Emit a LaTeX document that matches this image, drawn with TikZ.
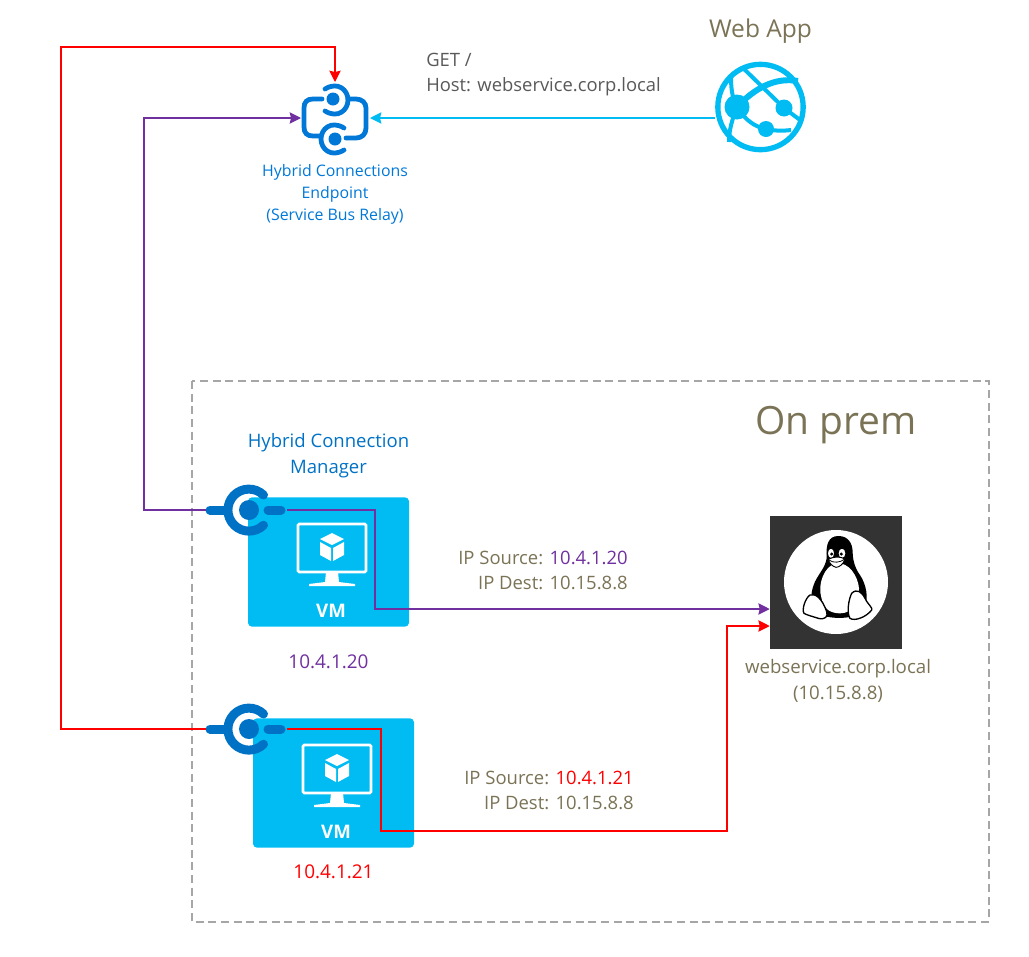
\documentclass[tikz,border=0pt]{standalone}
\usepackage{fontspec}
\setmainfont{Open Sans}
\usetikzlibrary{arrows.meta,positioning}
\definecolor{azure}{HTML}{00BCF2}
\definecolor{azuredark}{HTML}{0072C6}
\definecolor{relayblue}{HTML}{0078D7}
\definecolor{olive}{HTML}{7A7356}
\definecolor{greytxt}{HTML}{595959}
\definecolor{flowpurple}{HTML}{7030A0}
\definecolor{flowred}{HTML}{FF0000}
\definecolor{tuxbg}{HTML}{333333}
\tikzstyle{vmbox} = [rectangle, fill=azure, rounded corners=3pt, minimum width=120.75pt, minimum height=97pt, inner sep=0pt]
\tikzstyle{tuxbox} = [rectangle, fill=tuxbg, minimum width=99pt, minimum height=99.75pt, inner sep=0pt]
\tikzstyle{spot} = [inner sep=0pt, outer sep=0pt]
\tikzstyle{txtbox} = [inner sep=0pt, align=center, font=\fontsize{11.9}{16.5}\selectfont]
\tikzstyle{flowtxt} = [inner sep=0pt, text=olive, align=right, anchor=north east, font=\fontsize{13.85}{18.8}\selectfont]
\tikzstyle{line} = [draw, line width=1pt, -{Stealth[length=8.5pt,width=8.5pt,inset=1pt]}]
\tikzset{
  vmicon/.pic={
    \draw [white, line width=2pt, rounded corners=1pt] (-34,-24) rectangle (34,24);
    \fill [white] (-6,24) -- (6,24) -- (7,34) -- (23,36) -- (23,38) -- (-23,38) -- (-23,36) -- (-7,34) -- cycle;
    \fill [white] (0,-15) -- (12,-9) -- (0,-3) -- (-12,-9) -- cycle;
    \fill [white] (-12,-6) -- (-1,0) -- (-1,13) -- (-12,7) -- cycle;
    \fill [white] (12,-6) -- (1,0) -- (1,13) -- (12,7) -- cycle;
    \node [spot, white, font=\fontsize{14}{14}\selectfont\bfseries] at (-1,63) {VM};
  },
  hcmicon/.pic={
    \draw [azuredark, line width=6.75pt, line cap=round] (14.5,-15) arc (-46:-314:21);
    \fill [azuredark] (0,0) circle (10);
    \draw [azuredark, line width=6.75pt, line cap=round] (-39,0) -- (-22,0);
    \draw [azuredark, line width=6.75pt, line cap=round] (19,0) -- (32,0);
    \coordinate (-west) at (-43,0);
    \coordinate (-east) at (38,0);
  }
}
\begin{document}
\begin{tikzpicture}[x=0.75pt, y=-0.75pt]
    \useasboundingbox (0,0) rectangle (1029,957);
    % on prem frame
    \draw [color=black!35, line width=1.1pt, dash pattern=on 6pt off 3.5pt] (192,381) rectangle (989,922);
    \node [txtbox, text=olive, font=\fontsize{29.2}{29}\selectfont] (onprem) at (836,425) {On prem};
    % relay icon
    \node [spot, minimum width=49.5pt, minimum height=56pt] (relay) at (335,118) {};
    \fill [relayblue] (333,99) circle (6.5);
    \fill [relayblue] (335,139) circle (6.5);
    \draw [relayblue, line width=3.6pt, line cap=round] (325,89) .. controls (338,81) and (348,90) .. (348,100) .. controls (348,110) and (338,119) .. (325,111);
    \draw [relayblue, line width=3.6pt, line cap=round] (344,128) .. controls (331,120) and (321,129) .. (321,139) .. controls (321,149) and (331,158) .. (344,150);
    \draw [relayblue, line width=3.6pt, line cap=round] (322,99) -- (313,99) .. controls (307,99) and (304,102) .. (304,108) -- (304,127) .. controls (304,133) and (307,136) .. (313,136) -- (321,136);
    \draw [relayblue, line width=3.6pt, line cap=round] (348,99) -- (356,99) .. controls (362,99) and (366,103) .. (366,108) -- (366,128) .. controls (366,134) and (362,138) .. (356,138) -- (346,138);
    \node [txtbox, text=relayblue, below=7pt of relay] (relaytxt) {Hybrid Connections\\Endpoint\\(Service Bus Relay)};
    % web app icon
    \node [spot, circle, draw=azure, line width=4pt, minimum size=64pt] (webapp) at (760.5,107) {};
    \begin{scope}[azure]
      \fill (737,107) circle (12.5);
      \fill (784,108) circle (8.5);
      \fill (766,129) circle (8);
      \draw [line width=4.5pt] (737,107) .. controls (755,88) and (775,77) .. (798,81);
      \draw [line width=3pt] (743,68) -- (784,108) -- (800,120);
      \draw [line width=3pt] (737,107) .. controls (745,120) and (755,127) .. (766,129) .. controls (775,131) and (783,131) .. (791,130);
      \draw [line width=3pt] (737,107) .. controls (732,98) and (731,88) .. (731,76);
      \draw [line width=3pt] (737,107) .. controls (732,120) and (729,130) .. (729,142);
    \end{scope}
    \node [txtbox, text=olive, font=\fontsize{18.4}{18}\selectfont, above=15.5pt of webapp] (webtxt) {Web App};
    \node [txtbox, text=greytxt, align=left, font=\fontsize{13.8}{18.8}\selectfont, anchor=north west] (gettxt) at (426,53) {GET /\\Host: webservice.corp.local};
    % virtual machines
    \node [vmbox] (vmA) at (328.5,562) {};
    \pic at (332,548) {vmicon};
    \node [vmbox] (vmB) at (333.5,783) {};
    \pic at (337,769) {vmicon};
    \pic (hcmA) at (249,510) {hcmicon};
    \pic (hcmB) at (249,729) {hcmicon};
    \node [txtbox, text=azuredark, font=\fontsize{13.9}{19.5}\selectfont, above=14.5pt of vmA] (hcmtxt) {Hybrid Connection\\Manager};
    \node [txtbox, text=flowpurple, font=\fontsize{14.2}{14}\selectfont, below=21pt of vmA] (ipA) {10.4.1.20};
    \node [txtbox, text=flowred, font=\fontsize{14.2}{14}\selectfont, below=12.5pt of vmB.south] (ipB) {10.4.1.21};
    % linux box
    \node [tuxbox] (linux) at (836,582) {};
    \fill [white] (836,582) circle (52);
    \begin{scope}[shift={(760,510)}, scale=1/3]
      \fill [black] (235,78) .. controls (205,78) and (198,105) .. (200,135) .. controls (202,165) and (180,185) .. (165,215) .. controls (152,245) and (150,270) .. (165,285) -- (200,320) .. controls (225,325) and (250,325) .. (275,320) -- (315,285) .. controls (325,265) and (320,225) .. (300,195) .. controls (285,175) and (278,150) .. (278,125) .. controls (277,100) and (265,78) .. (235,78) -- cycle;
      \fill [white] (228,160) .. controls (192,168) and (172,225) .. (184,262) .. controls (190,300) and (215,310) .. (240,310) .. controls (275,310) and (300,280) .. (297,235) .. controls (294,200) and (268,155) .. (228,160) -- cycle;
      \draw [black, fill=white, line width=0.8pt] (213,130) ellipse (11 and 16);
      \draw [black, fill=white, line width=0.8pt] (246,130) ellipse (12 and 16);
      \fill [black] (215,132) circle (5);
      \fill [black] (244,132) circle (5);
      \draw [black, fill=white, line width=0.7pt] (205,148) .. controls (220,140) and (240,138) .. (255,147) .. controls (250,165) and (235,172) .. (228,172) .. controls (218,170) and (208,160) .. (205,148) -- cycle;
      \draw [black, line width=0.6pt] (207,150) .. controls (220,160) and (240,158) .. (253,148);
      \draw [black, fill=white, line width=1pt] (150,255) .. controls (165,250) and (185,262) .. (200,305) .. controls (205,320) and (195,330) .. (175,325) .. controls (160,320) and (140,315) .. (132,310) .. controls (125,300) and (135,265) .. (150,255) -- cycle;
      \draw [black, fill=white, line width=1pt] (275,250) .. controls (290,235) and (305,245) .. (315,265) .. controls (325,285) and (340,295) .. (335,300) .. controls (320,320) and (285,335) .. (270,325) .. controls (260,310) and (265,270) .. (275,250) -- cycle;
    \end{scope}
    \node [txtbox, text=olive, font=\fontsize{14}{19}\selectfont, below=8pt of linux, xshift=1.5pt] (linuxtxt) {webservice.corp.local\\(10.15.8.8)};
    % flow labels
    \node [flowtxt] (flowA) at (628,551) {IP Source: \textcolor{flowpurple}{10.4.1.20}\\IP Dest: 10.15.8.8};
    \node [flowtxt] (flowB) at (634,771) {IP Source: \textcolor{flowred}{10.4.1.21}\\IP Dest: 10.15.8.8};
    % flows
    \coordinate (inA) at (linux.west |- 0,609);
    \coordinate (inB) at (linux.west |- 0,626);
    \coordinate (relayW) at (301,118);
    \coordinate (relayN) at (335,82);
    \coordinate (relayE) at (370,118);
    \coordinate (webW) at (715,118);
    \path [line, color=azure] (webW) -- (relayE);
    \path [line, color=flowpurple] (hcmA-west) -| (144,118) -- (relayW);
    \path [line, color=flowred] (hcmB-west) -| (61,47) -| (relayN);
    \path [line, color=flowpurple] (hcmA-east) -| (375,609) -- (inA);
    \path [line, color=flowred] (hcmB-east) -| (381,831) -| (727,626) -- (inB);
\end{tikzpicture}
\end{document}
